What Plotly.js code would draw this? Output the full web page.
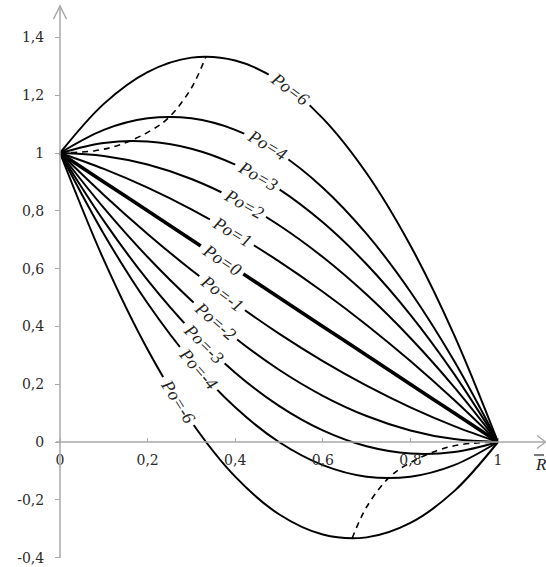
<!DOCTYPE html>
<html><head><meta charset="utf-8">
<script src="https://cdn.plot.ly/plotly-3.0.1.min.js"></script>
<style>html,body{margin:0;padding:0;background:#fff;}#chart{width:546px;height:567px;}</style>
</head><body><div id="chart"></div>
<script>
// ---- data ----
const R = [0, 0.1, 0.2, 0.3, 0.4, 0.5, 0.6, 0.7, 0.8, 0.9, 1];
const poValues = [6, 4, 3, 2, 1, 0, -1, -2, -3, -4, -6];
const T_po6  = [1, 1.17, 1.28, 1.33, 1.32, 1.25, 1.12, 0.93, 0.68, 0.37, 0];
const T_po4  = [1, 1.08, 1.12, 1.12, 1.08, 1.00, 0.88, 0.72, 0.52, 0.28, 0];
const T_po3  = [1, 1.035, 1.04, 1.015, 0.96, 0.875, 0.76, 0.615, 0.44, 0.235, 0];
const T_po2  = [1, 0.99, 0.96, 0.91, 0.84, 0.75, 0.64, 0.51, 0.36, 0.19, 0];
const T_po1  = [1, 0.945, 0.88, 0.805, 0.72, 0.625, 0.52, 0.405, 0.28, 0.145, 0];
const T_po0  = [1, 0.90, 0.80, 0.70, 0.60, 0.50, 0.40, 0.30, 0.20, 0.10, 0];
const T_pom1 = [1, 0.855, 0.72, 0.595, 0.48, 0.375, 0.28, 0.195, 0.12, 0.055, 0];
const T_pom2 = [1, 0.81, 0.64, 0.49, 0.36, 0.25, 0.16, 0.09, 0.04, 0.01, 0];
const T_pom3 = [1, 0.765, 0.56, 0.385, 0.24, 0.125, 0.04, -0.015, -0.04, -0.035, 0];
const T_pom4 = [1, 0.72, 0.48, 0.28, 0.12, 0, -0.08, -0.12, -0.12, -0.08, 0];
const T_pom6 = [1, 0.63, 0.32, 0.07, -0.12, -0.25, -0.32, -0.33, -0.28, -0.17, 0];
const seriesT = [T_po6, T_po4, T_po3, T_po2, T_po1, T_po0, T_pom1, T_pom2, T_pom3, T_pom4, T_pom6];
// loci of extrema (dashed)
const maxLocusR = [0, 0.08, 0.14, 0.21, 0.25, 0.30, 0.333];
const maxLocusT = [1, 1.008, 1.03, 1.08, 1.125, 1.225, 1.333];
const minLocusR = [0.667, 0.70, 0.75, 0.79, 0.86, 0.92, 1];
const minLocusT = [-0.333, -0.225, -0.125, -0.08, -0.03, -0.008, 0];
const xTickVals = [0, 0.2, 0.4, 0.6, 0.8, 1];
const xTickText = ['0', '0,2', '0,4', '0,6', '0,8', '1'];
const yTickVals = [-0.4, -0.2, 0, 0.2, 0.4, 0.6, 0.8, 1, 1.2, 1.4];
const yTickText = ['-0,4', '-0,2', '0', '0,2', '0,4', '0,6', '0,8', '1', '1,2', '1,4'];

// ---- geometry helpers (decoration only) ----
const W = 546, H = 567, ML = 40;
const x0px = 60, x1px = 498, y0px = 442, y1px = 153;
const sx = x1px - x0px, sy = y0px - y1px;
const xr = [(ML - x0px) / sx, (W - x0px) / sx];
const yr = [-(H - y0px) / sy, y0px / sy];
const px = p => (p - x0px) / sx;
const py = p => (y0px - p) / sy;

const traces = [];
poValues.forEach((po, i) => {
  traces.push({
    x: R, y: seriesT[i], type: 'scatter', mode: 'lines',
    line: {color: '#000', width: po === 0 ? 3.6 : 2, shape: 'spline', smoothing: 1},
    hoverinfo: 'skip', showlegend: false
  });
});
traces.push({x: maxLocusR, y: maxLocusT, type: 'scatter', mode: 'lines',
  line: {color: '#000', width: 1.6, dash: '6px,5px', shape: 'spline'}, showlegend: false, hoverinfo: 'skip'});
traces.push({x: minLocusR, y: minLocusT, type: 'scatter', mode: 'lines',
  line: {color: '#000', width: 1.6, dash: '6px,5px', shape: 'spline'}, showlegend: false, hoverinfo: 'skip'});

// label placements [R, T, angle]
const labelPlace = [
  [0.525, 1.222, 37], [0.473, 1.026, 31], [0.452, 0.920, 30], [0.420, 0.823, 30],
  [0.393, 0.726, 31], [0.370, 0.630, 34], [0.369, 0.515, 37], [0.354, 0.417, 41],
  [0.329, 0.340, 45], [0.316, 0.252, 49], [0.269, 0.141, 58]
];
const annotations = poValues.map((po, i) => ({
  x: labelPlace[i][0], y: labelPlace[i][1], xref: 'x', yref: 'y',
  text: 'Po=' + po, showarrow: false, textangle: labelPlace[i][2],
  bgcolor: '#fff', borderpad: 4,
  font: {family: 'Liberation Serif', size: 18, style: 'italic', color: '#222'}
}));
annotations.push({x: px(33), y: py(19), xref: 'x', yref: 'y', text: 'T', showarrow: false,
  font: {family: 'Liberation Serif', size: 21, color: '#222'}});
annotations.push({x: px(533), y: py(464), xref: 'x', yref: 'y', text: 'R', showarrow: false,
  xanchor: 'left', font: {family: 'Liberation Serif', size: 17, style: 'italic', color: '#222'}});

const axisCol = '#a8a8a8';
const shapes = [
  // y axis
  {type: 'line', x0: 0, x1: 0, y0: py(558), y1: py(7), line: {color: axisCol, width: 1.5}},
  {type: 'path', path: `M ${px(53.5)} ${py(19)} L 0 ${py(6)} L ${px(66.5)} ${py(19)}`, line: {color: axisCol, width: 1.5}},
  // x axis
  {type: 'line', x0: px(56), x1: px(545), y0: 0, y1: 0, line: {color: axisCol, width: 1.5}},
  {type: 'path', path: `M ${px(537)} ${py(435.5)} L ${px(545.5)} 0 L ${px(537)} ${py(448.5)}`, line: {color: axisCol, width: 1.5}},
  // overline of R
  {type: 'line', x0: px(534), x1: px(544), y0: py(455), y1: py(455), line: {color: '#222', width: 1.2}}
];

const tickFont = {family: 'DejaVu Serif', size: 14, color: '#2a2a2a'};
const layout = {
  width: W, height: H,
  margin: {l: ML, r: 0, t: 0, b: 0, pad: 0},
  paper_bgcolor: '#fff', plot_bgcolor: '#fff',
  showlegend: false,
  xaxis: {range: xr, anchor: 'free', position: (0 - yr[0]) / (yr[1] - yr[0]),
    showgrid: false, zeroline: false, showline: false,
    tickmode: 'array', tickvals: xTickVals, ticktext: xTickText,
    ticks: 'inside', ticklen: 4, tickcolor: axisCol, tickfont: tickFont, ticklabelstandoff: 8},
  yaxis: {range: yr, anchor: 'free', position: (0 - xr[0]) / (xr[1] - xr[0]),
    showgrid: false, zeroline: false, showline: false,
    tickmode: 'array', tickvals: yTickVals, ticktext: yTickText,
    ticks: 'outside', ticklen: 5, tickcolor: axisCol, tickfont: tickFont, ticklabelstandoff: 8},
  shapes: shapes,
  annotations: annotations
};
Plotly.newPlot('chart', traces, layout, {staticPlot: true, displayModeBar: false});
</script>
</body></html>
